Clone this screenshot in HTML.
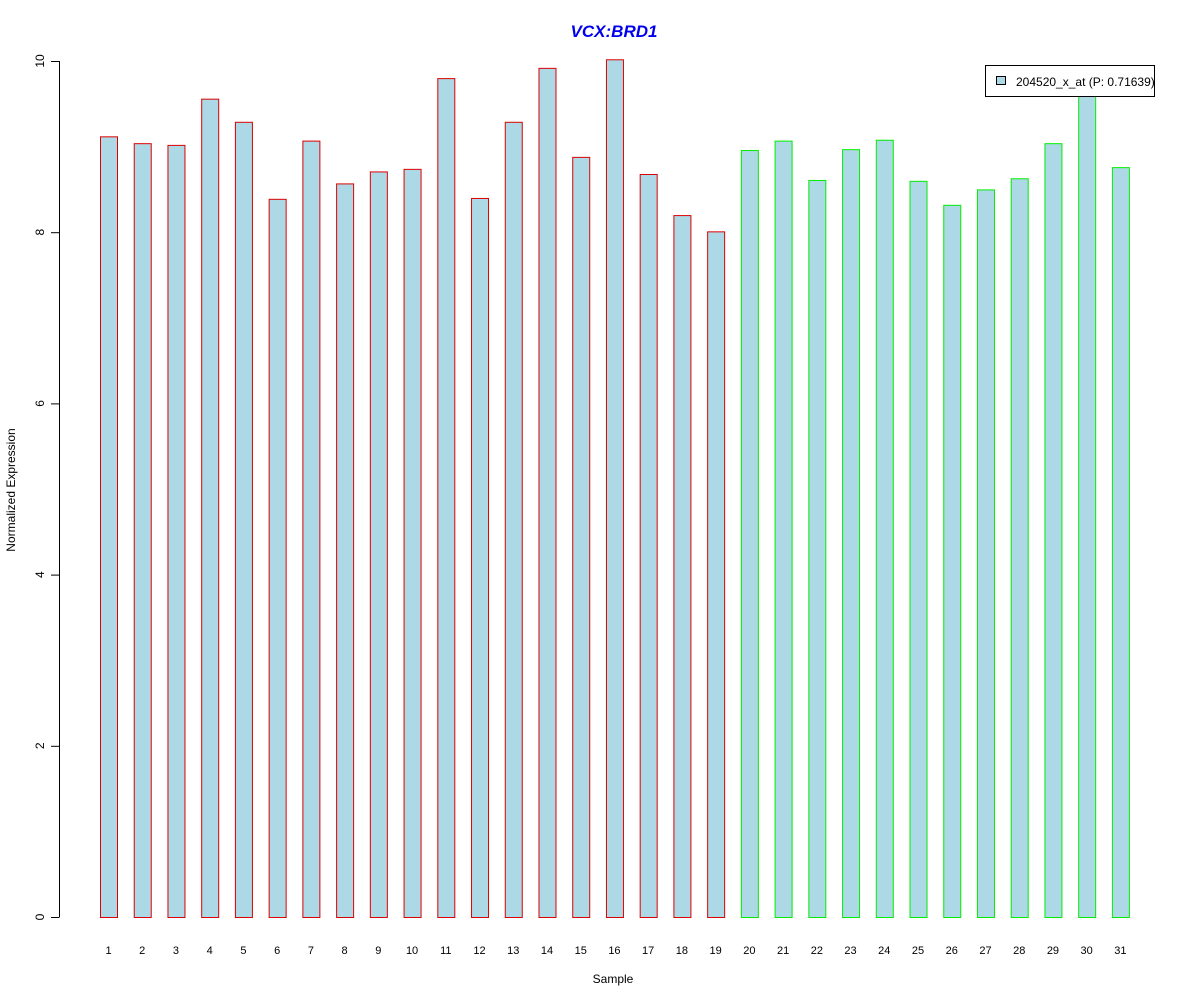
<!DOCTYPE html>
<html><head><meta charset="utf-8"><style>
body{margin:0;background:#fff}
svg text{font-family:"Liberation Sans",sans-serif}
</style></head><body>
<svg id="chart" width="1200" height="1000" xmlns="http://www.w3.org/2000/svg">
<rect width="1200" height="1000" fill="#fff"/>
<text x="614" y="37" text-anchor="middle" font-size="17" font-weight="bold" font-style="italic" fill="#0000ee">VCX:BRD1</text>
<text transform="translate(15,490) rotate(-90)" text-anchor="middle" font-size="12">Normalized Expression</text>
<text x="613" y="983" text-anchor="middle" font-size="12">Sample</text>
<g id="yaxis"></g>
<g id="bars"></g>
<g id="xlabels"></g>
<g>
<rect x="985.5" y="65.5" width="169" height="31" fill="#fff" stroke="#000"/>
<rect x="996.5" y="76.5" width="9" height="8" fill="#add8e6" stroke="#000"/>
<text x="1016" y="86" font-size="12">204520_x_at (P: 0.71639)</text>
</g>
</svg>
<script>
const categories=["1","2","3","4","5","6","7","8","9","10","11","12","13","14","15","16","17","18","19","20","21","22","23","24","25","26","27","28","29","30","31"];
const values=[9.12,9.04,9.02,9.56,9.29,8.39,9.07,8.57,8.71,8.74,9.80,8.40,9.29,9.92,8.88,10.02,8.68,8.20,8.01,8.96,9.07,8.61,8.97,9.08,8.60,8.32,8.50,8.63,9.04,9.75,8.76];
const groups=["r","r","r","r","r","r","r","r","r","r","r","r","r","r","r","r","r","r","r","g","g","g","g","g","g","g","g","g","g","g","g"];
const yTicks=[0,2,4,6,8,10];
const NS="http://www.w3.org/2000/svg";
const y=v=>917-v*85.6;
const x=i=>108.5+i*33.73;
const ya=document.getElementById('yaxis');
function mk(t,a,p){const e=document.createElementNS(NS,t);for(const k in a)e.setAttribute(k,a[k]);p.appendChild(e);return e;}
const axl=mk('line',{x1:59.5,x2:59.5,y1:y(10),y2:y(0),stroke:'#000'},ya);


yTicks.forEach(t=>{
  const l=mk('line',{x1:51,x2:59.5,y1:y(t)+0.5,y2:y(t)+0.5,stroke:'#000'},ya);
  
  
  const tx=mk('text',{transform:`translate(44,${y(t)}) rotate(-90)`,'text-anchor':'middle','font-size':12},ya);
  tx.textContent=t;
  
  
});
const bg=document.getElementById('bars'),xl=document.getElementById('xlabels');
values.forEach((v,i)=>{
  const r=mk('rect',{x:x(i)-8,y:y(v)+0.5,width:17,height:y(0)-y(v),fill:'#add8e6',stroke:groups[i]==='r'?'#dd0000':'#00ee00'},bg);
  
  
  const t=mk('text',{x:x(i),y:954,'text-anchor':'middle','font-size':11},xl);
  t.textContent=categories[i];
  
  
});
</script>
</body></html>
